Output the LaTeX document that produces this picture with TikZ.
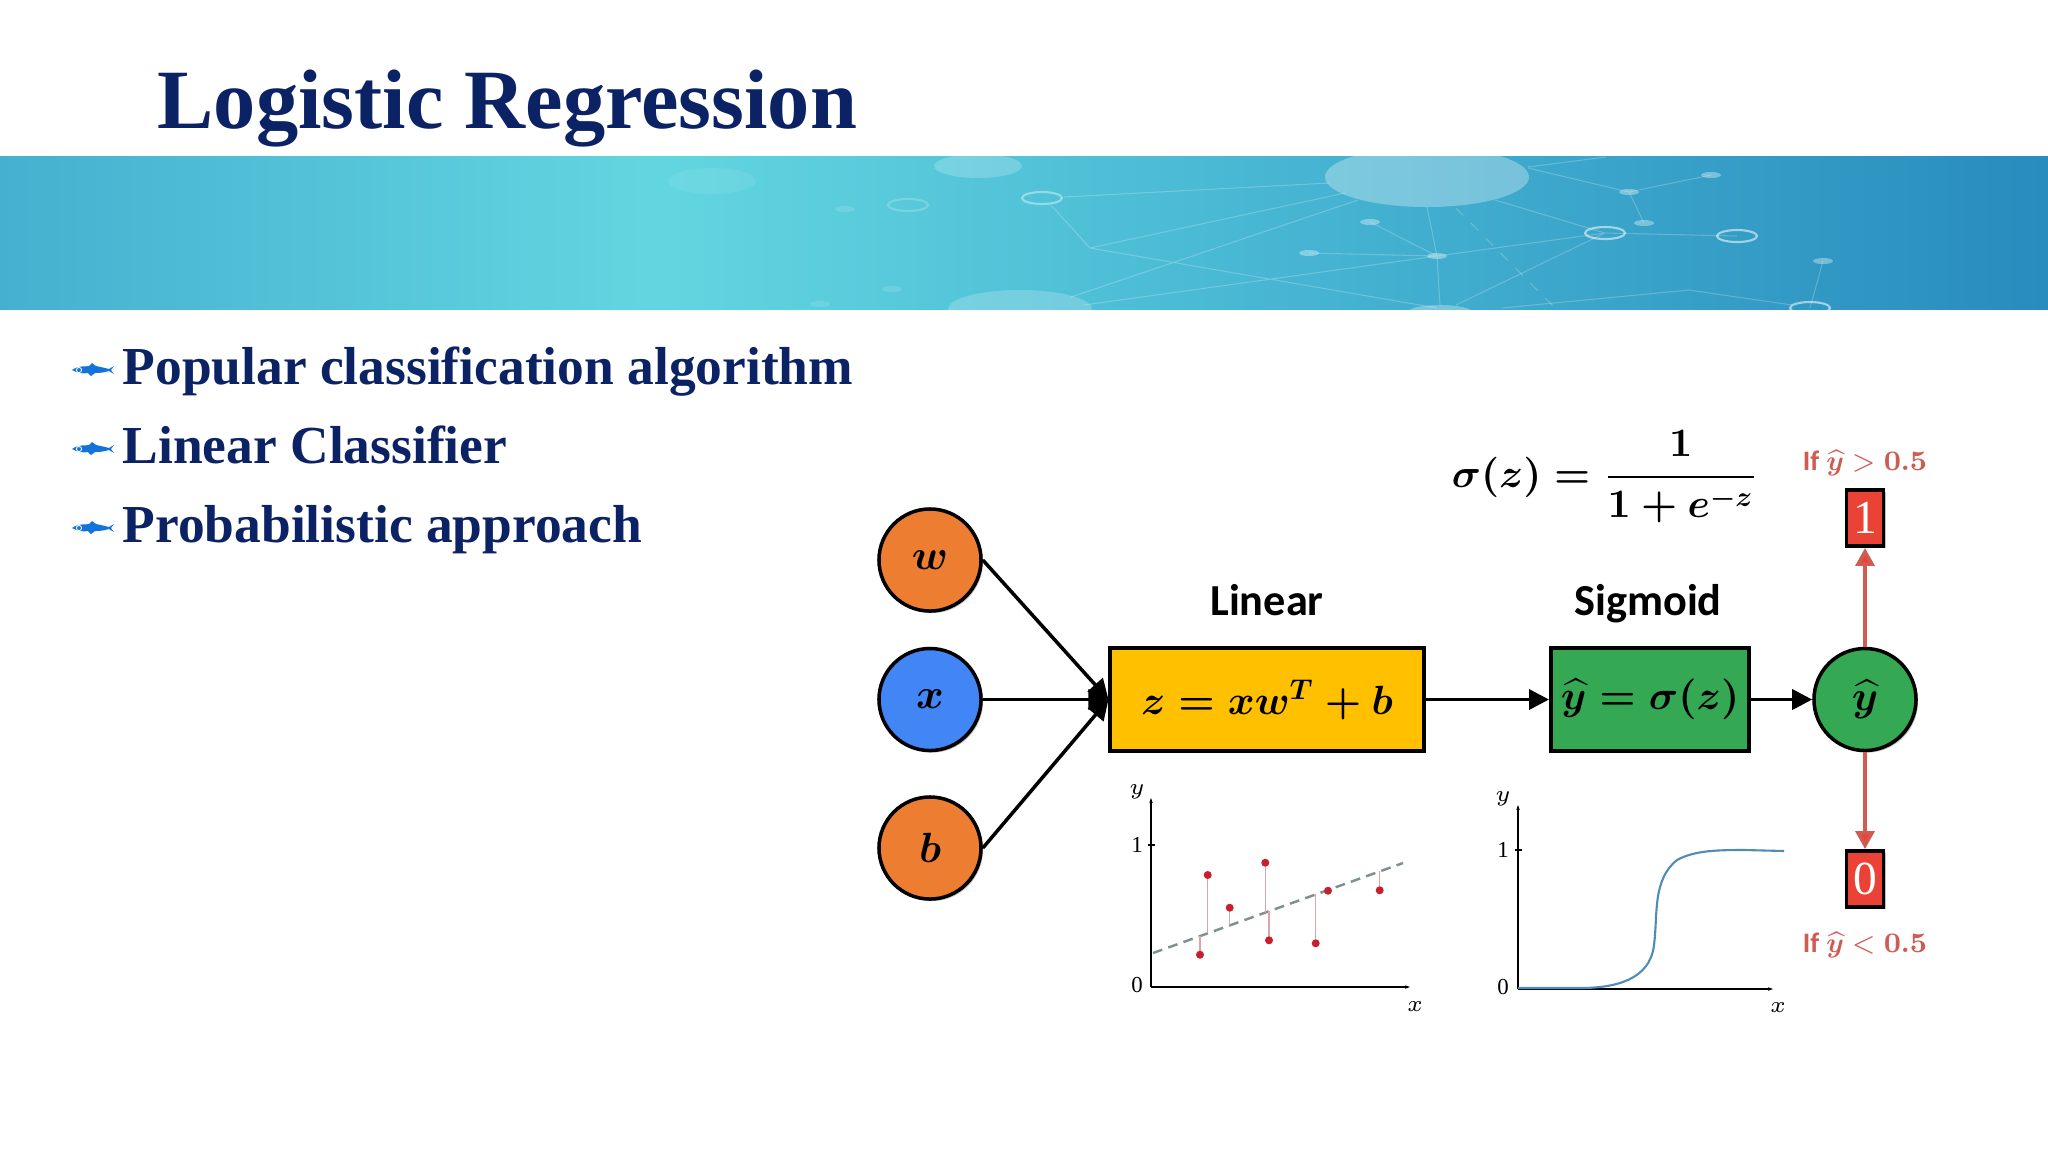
\RequirePackage{fix-cm}
\documentclass[tikz,border=0pt]{standalone}
\usepackage{amsmath}
\usepackage{fontspec}
\setmainfont{Liberation Serif}
\newfontfamily\labelfont{Carlito}
\usepackage{xcolor}
\usepackage{tikz}
\usetikzlibrary{arrows.meta,shadows}

\definecolor{navy}{HTML}{0B2265}
\definecolor{fishblue}{HTML}{1273D8}
\definecolor{nodeorange}{HTML}{ED7D31}
\definecolor{nodeblue}{HTML}{4285F4}
\definecolor{boxyellow}{HTML}{FFC000}
\definecolor{boxgreen}{HTML}{34A853}
\definecolor{boxred}{HTML}{EA4335}
\definecolor{labelred}{HTML}{CF5B52}
\definecolor{curveblue}{HTML}{4F8DB8}
\definecolor{dotred}{HTML}{C81E2D}
\definecolor{residual}{HTML}{D8A8A8}
\definecolor{fitgray}{HTML}{7F9090}
\definecolor{bannerleft}{HTML}{46B0D0}
\definecolor{bannermid}{HTML}{62D6E0}
\definecolor{bannerinner}{HTML}{46B4D2}
\definecolor{bannerright}{HTML}{288CBE}

\newcommand{\boldeq}[1]{{\boldmath$#1$}}

\pgfdeclarehorizontalshading{banner}{100bp}{
    color(0bp)=(bannerleft);
    color(25bp)=(bannerleft);
    color(41bp)=(bannermid);
    color(57bp)=(bannerinner);
    color(75bp)=(bannerright);
    color(100bp)=(bannerright)}

\tikzset{
    softshadow/.style={drop shadow={shadow xshift=.02cm,shadow yshift=-.02cm,opacity=.25,fill=black}},
    circlenode/.style={circle,draw=black,line width=1pt,minimum size=1.02cm,inner sep=0pt,softshadow,font=\fontsize{12}{15}\selectfont},
    boxnode/.style={rectangle,draw=black,line width=1.1pt,inner sep=0pt,softshadow,font=\fontsize{11.6}{15}\selectfont},
    outbox/.style={rectangle,draw=black,line width=1.1pt,fill=boxred,inner sep=0pt,minimum width=.37cm,minimum height=.56cm,softshadow,text=white,font=\fontsize{13.5}{15}\selectfont},
    blocklabel/.style={anchor=base,font=\labelfont\bfseries\fontsize{12.6}{15}\selectfont},
    ruletext/.style={text=labelred,font=\fontsize{8}{10}\selectfont},
    bullettext/.style={anchor=base west,text=navy,font=\bfseries\fontsize{15.2}{18}\selectfont},
    chartaxis/.style={line width=.45pt,-{Stealth[length=.05cm,width=.035cm]}},
    charttext/.style={font=\fontsize{6.5}{7}\selectfont,inner sep=0pt},
    flow/.style={line width=1pt,-{Triangle[length=.2cm,width=.2cm]}},
    redflow/.style={draw=labelred,line width=1pt,-{Triangle[length=.18cm,width=.19cm,fill=boxred]}},
    fish/.pic={
        \fill[fishblue] (-21,0) .. controls (-14,-5) and (-8,-3) .. (-4,-4) -- (-1,-7) -- (3,-4)
            .. controls (8,-3) and (12,-2) .. (16,-1) -- (21,-4) -- (18,0) -- (21,4) -- (16,1)
            .. controls (10,3) and (4,3) .. (2,3) -- (-2,6) -- (-5,3)
            .. controls (-10,4) and (-16,3) .. (-21,0) -- cycle;
        \draw[white,line width=.25pt] (-14,0) circle (2.6);
    }
}

\begin{document}
\begin{tikzpicture}[x=0.01cm,y=-0.01cm]

        \useasboundingbox (0,0) rectangle (2048,1153);
        \fill[white] (0,0) rectangle (2048,1153);

        % Banner
        \shade[shading=banner] (0,156) rectangle (2048,309);
        \begin{scope}
            \clip (0,156) rectangle (2048,309);
            \draw[white,opacity=.22,line width=.3pt]
                (1629,192) -- (1711,175) (1629,192) -- (1644,223) (1629,192) -- (1528,168)
                (1495,200) -- (1605,233) -- (1737,236) (1605,233) -- (1437,256) -- (1370,222)
                (1309,253) -- (1437,256) -- (1427,207) (1437,256) -- (1440,305)
                (1605,233) -- (1456,305) (1084,305) -- (1437,256)
                (1358,200) -- (1071,297) (1345,193) -- (1090,248) -- (1051,205)
                (1329,183) -- (1064,197) (1090,248) -- (1437,308)
                (1502,308) -- (1689,290) -- (1792,305) (1810,308) -- (1823,261)
                (1528,167) -- (1606,157);
            \draw[white,opacity=.22,line width=.3pt,dashed] (1456,208) -- (1554,307);
            \fill[white,opacity=.3] (1427,177) ellipse (102 and 30);
            \fill[white,opacity=.2] (978,166) ellipse (44 and 12);
            \fill[white,opacity=.08] (712,181) ellipse (44 and 13);
            \fill[white,opacity=.2] (1020,309) ellipse (72 and 19);
            \fill[white,opacity=.3] (1440,312) ellipse (32 and 7);
            \foreach \ringx/\ringy/\ringop in {1042/198/.4,908/205/.2,1605/233/.55,1737/236/.55,1810/308/.55}
                \draw[white,opacity=\ringop,line width=.6pt] (\ringx,\ringy) ellipse (20 and 6);
            \foreach \spotx/\spoty in {1711/175,1629/192,1644/223,1370/222,1309/253,1437/256,1823/261}
                \fill[white,opacity=.35] (\spotx,\spoty) ellipse (10 and 3);
            \foreach \spotx/\spoty in {845/209,892/289,820/304}
                \fill[white,opacity=.12] (\spotx,\spoty) ellipse (10 and 3);
        \end{scope}

        % Title
        \node[anchor=base west,inner sep=0pt,text=navy,font=\bfseries\fontsize{24}{28}\selectfont] (title) at (157,128) {Logistic Regression};

        % Bullets
        \foreach \liney/\linetext in {384/Popular classification algorithm,463/Linear Classifier,542/Probabilistic approach} {
            \node[bullettext,inner sep=0pt] at (122,\liney) {\linetext};
            \pic at (93,\liney-14) {fish};
        }

        % Inputs
        \node[circlenode,fill=nodeorange] (wnode) at (930,560) {$\boldsymbol{w}$};
        \node[circlenode,fill=nodeblue] (xnode) at (930,699.5) {$\boldsymbol{x}$};
        \node[circlenode,fill=nodeorange] (bnode) at (930,848) {$\boldsymbol{b}$};

        % Blocks
        \node[boxnode,fill=boxyellow,minimum width=3.13cm,minimum height=1.03cm] (linearbox) at (1267,699.5) {\boldeq{z=xw^{T}+b}};
        \node[boxnode,fill=boxgreen,minimum width=1.98cm,minimum height=1.03cm] (sigmoidbox) at (1650,699.5) {\boldeq{\widehat{y}=\sigma(z)}};
        \node[circlenode,fill=boxgreen] (yhat) at (1865,699.5) {\boldeq{\widehat{y}}};
        \node[outbox] (onebox) at (1865,518) {1};
        \node[outbox] (zerobox) at (1865,879) {0};

        % Labels
        \node[blocklabel] (linearlabel) at (1267,615) {Linear};
        \node[blocklabel] (sigmoidlabel) at (1648,615) {Sigmoid};
        \node[ruletext] (ruleone) at (1865,463) {{\labelfont\bfseries If} $\boldsymbol{\widehat{y}}>\boldsymbol{0.5}$};
        \node[ruletext] (rulezero) at (1865,945) {{\labelfont\bfseries If} $\boldsymbol{\widehat{y}}<\boldsymbol{0.5}$};
        \node[font=\fontsize{11.5}{15}\selectfont] (sigmaformula) at (1605,477) {\boldeq{\sigma(z)=\dfrac{\mathbf{1}}{\mathbf{1}+e^{-z}}}};

        % Arrows
        \draw[flow] (wnode.east) -- (linearbox.west);
        \draw[flow] (xnode.east) -- (linearbox.west);
        \draw[flow] (bnode.east) -- (linearbox.west);
        \draw[flow] (linearbox) -- (sigmoidbox);
        \draw[flow] (sigmoidbox) -- (yhat);
        \draw[redflow] (yhat) -- (onebox);
        \draw[redflow] (yhat) -- (zerobox);

        % Linear chart
        \draw[chartaxis] (1151,987) -- (1151,798);
        \draw[chartaxis] (1151,987) -- (1410,987);
        \draw[line width=.5pt] (1148,845) -- (1155,845);
        \node[charttext] at (1137,845) {1};
        \node[charttext] at (1137,985) {0};
        \node[charttext] at (1137,792) {$y$};
        \node[charttext] at (1415,1007) {$x$};
        \draw[fitgray,line width=.7pt,dash pattern=on 2.8pt off 1.8pt] (1153,953) -- (1403,863);
        \foreach \dotx/\doty in {1200/954.7,1207.7/875,1229.7/907.7,1265.3/862.7,1269/940.3,1315.7/943.3,1328/890.7,1379.7/890.3} {
            \draw[residual,line width=.3pt] (\dotx,\doty) -- (\dotx,{953-0.36*(\dotx-1153)});
            \fill[dotred] (\dotx,\doty) circle (4);
        }

        % Sigmoid chart
        \draw[chartaxis] (1518,989) -- (1518,805);
        \draw[chartaxis] (1518,989) -- (1773,989);
        \draw[line width=.5pt] (1515,850) -- (1522,850);
        \node[charttext] at (1503,850) {1};
        \node[charttext] at (1503,987) {0};
        \node[charttext] at (1503,799) {$y$};
        \node[charttext] at (1778,1008) {$x$};
        \draw[curveblue,line width=.6pt] (1518,988) -- (1580,988) .. controls (1615,988) and (1650,980) .. (1654,945)
            .. controls (1658,915) and (1652,880) .. (1677,860) .. controls (1695,850) and (1720,850) .. (1745,850) -- (1784,851);

    \end{tikzpicture}
\end{document}
